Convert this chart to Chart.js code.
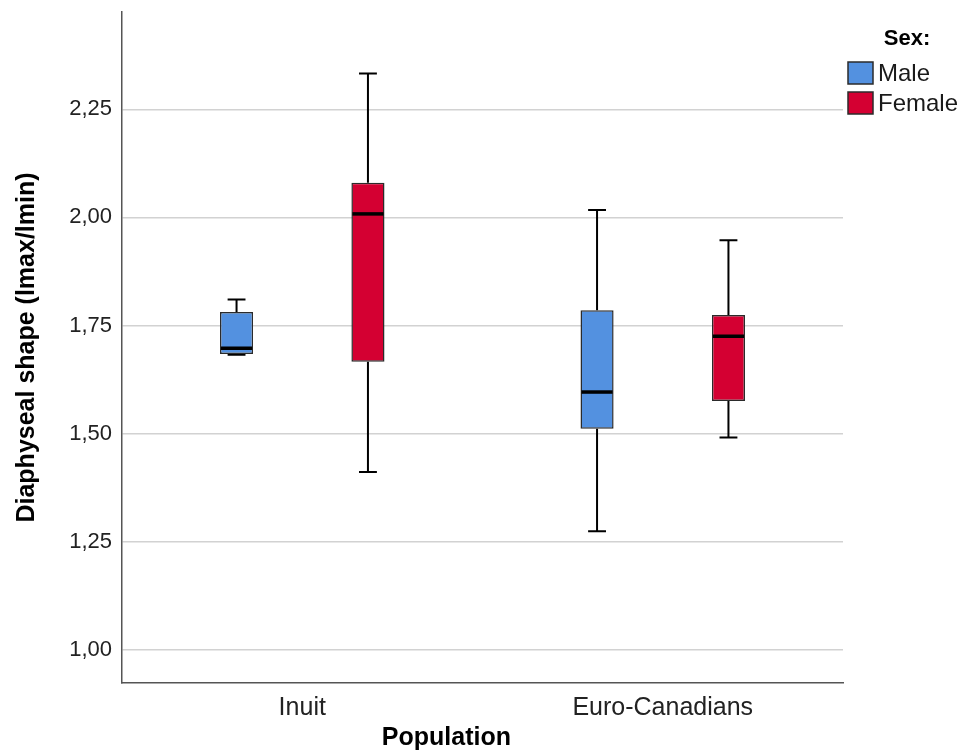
<!DOCTYPE html>
<html><head><meta charset="utf-8">
<script src="https://cdn.jsdelivr.net/npm/chart.js@4"></script>
<style>html,body{margin:0;padding:0;background:#fff}#wrap{width:971px;height:754px;position:relative}</style>
</head><body><div id="wrap"><canvas id="c"></canvas></div>
<script>
const categories = ['Inuit', 'Euro-Canadians'];
const seriesNames = ['Male', 'Female'];
const legendTitle = 'Sex:';
const xTitle = 'Population';
const yTitle = 'Diaphyseal shape (lmax/lmin)';

const maleMin    = [1.682, 1.274];
const maleQ1     = [1.684, 1.511];
const maleMedian = [1.697, 1.596];
const maleQ3     = [1.781, 1.785];
const maleMax    = [1.810, 2.017];

const femaleMin    = [1.411, 1.491];
const femaleQ1     = [1.666, 1.575];
const femaleMedian = [2.008, 1.725];
const femaleQ3     = [2.080, 1.774];
const femaleMax    = [2.333, 1.947];

const yTicks = [1.00, 1.25, 1.50, 1.75, 2.00, 2.25];
const yRange = [0.923, 2.475];

const colors = ['rgb(83,145,224)', 'rgb(212,0,50)'];
const FONT = '"Liberation Sans", Arial, sans-serif';

function makeDataset(label, color, mn, q1, med, q3, mx) {
  return {
    label: label,
    data: categories.map((c, i) => [q1[i], q3[i]]),
    whiskerMin: mn, median: med, whiskerMax: mx,
    backgroundColor: color,
    borderColor: '#2b2b2b',
    borderWidth: 1.5,
    borderSkipped: false,
    categoryPercentage: 0.729,
    barPercentage: 0.252
  };
}

const boxPlugin = {
  id: 'boxWhiskers',
  beforeDatasetsDraw(chart) {
    const ctx = chart.ctx, y = chart.scales.y;
    chart.data.datasets.forEach((ds, di) => {
      const meta = chart.getDatasetMeta(di);
      meta.data.forEach((bar, i) => {
        const x = bar.x, cap = bar.width * 0.54;
        const yMax = y.getPixelForValue(ds.whiskerMax[i]);
        const yMin = y.getPixelForValue(ds.whiskerMin[i]);
        const yQ1 = y.getPixelForValue(ds.data[i][0]);
        const yQ3 = y.getPixelForValue(ds.data[i][1]);
        ctx.save();
        ctx.strokeStyle = '#000';
        ctx.lineWidth = 2;
        ctx.beginPath();
        ctx.moveTo(x, yQ3); ctx.lineTo(x, yMax);
        ctx.moveTo(x - cap / 2, yMax); ctx.lineTo(x + cap / 2, yMax);
        ctx.moveTo(x, yQ1); ctx.lineTo(x, yMin);
        ctx.moveTo(x - cap / 2, yMin); ctx.lineTo(x + cap / 2, yMin);
        ctx.stroke();
        ctx.restore();
      });
    });
  },
  afterDatasetsDraw(chart) {
    const ctx = chart.ctx, y = chart.scales.y;
    chart.data.datasets.forEach((ds, di) => {
      const meta = chart.getDatasetMeta(di);
      meta.data.forEach((bar, i) => {
        const x = bar.x, w = bar.width;
        const yMed = y.getPixelForValue(ds.median[i]);
        ctx.save();
        ctx.strokeStyle = '#000';
        ctx.lineWidth = 3.5;
        ctx.beginPath();
        ctx.moveTo(x - w / 2 + 1, yMed); ctx.lineTo(x + w / 2 - 1, yMed);
        ctx.stroke();
        ctx.restore();
      });
    });
  },
  afterDraw(chart) {
    const ctx = chart.ctx, ca = chart.chartArea;
    const left = ca.right + 5;
    ctx.save();
    // x axis title
    ctx.fillStyle = '#000';
    ctx.font = 'bold 25px ' + FONT;
    ctx.textAlign = 'center';
    ctx.textBaseline = 'middle';
    ctx.fillText(xTitle, ca.left + ca.width * 0.45, 738);
    // legend
    ctx.font = 'bold 22px ' + FONT;
    ctx.fillText(legendTitle, ca.right + 64, 39);
    chart.data.datasets.forEach((ds, di) => {
      const top = 62 + di * 30;
      ctx.fillStyle = ds.backgroundColor;
      ctx.fillRect(left, top, 25, 22);
      ctx.strokeStyle = '#2b2b2b';
      ctx.lineWidth = 1.5;
      ctx.strokeRect(left, top, 25, 22);
      ctx.fillStyle = '#1a1a1a';
      ctx.font = '24px ' + FONT;
      ctx.textAlign = 'left';
      ctx.textBaseline = 'middle';
      ctx.fillText(ds.label, left + 30, top + 12);
    });
    ctx.restore();
  }
};

new Chart(document.getElementById('c'), {
  type: 'bar',
  data: {
    labels: categories,
    datasets: [
      makeDataset(seriesNames[0], colors[0], maleMin, maleQ1, maleMedian, maleQ3, maleMax),
      makeDataset(seriesNames[1], colors[1], femaleMin, femaleQ1, femaleMedian, femaleQ3, femaleMax)
    ]
  },
  options: {
    responsive: true,
    maintainAspectRatio: false,
    animation: false,
    layout: { padding: { top: 12, right: 128, bottom: 0, left: 0 } },
    plugins: { legend: { display: false }, tooltip: { enabled: false } },
    scales: {
      x: {
        grid: { display: false, drawTicks: false },
        border: { display: true, color: '#555', width: 1.5 },
        ticks: { color: '#222', padding: 10, font: { family: FONT, size: 25 } },
        title: { display: false, text: xTitle },
        afterFit(s) { s.height = 71; s.paddingLeft = 0; s.paddingRight = 0; }
      },
      y: {
        min: yRange[0], max: yRange[1],
        afterBuildTicks(s) { s.ticks = yTicks.map(v => ({ value: v })); },
        grid: { color: '#d2d2d2', lineWidth: 1.5, drawTicks: false },
        border: { display: true, color: '#555', width: 1.5 },
        ticks: { color: '#222', padding: 10,
                 font: { family: FONT, size: 22 },
                 callback: (v) => Number(v).toFixed(2).replace('.', ',') },
        title: { display: true, text: yTitle, color: '#000', padding: { top: 12, bottom: 0 },
                 font: { family: FONT, size: 25, weight: 'bold' } },
        afterFit(s) { s.width = 122; s.paddingTop = 0; s.paddingBottom = 0; }
      }
    }
  },
  plugins: [boxPlugin]
});
</script>
</body></html>
